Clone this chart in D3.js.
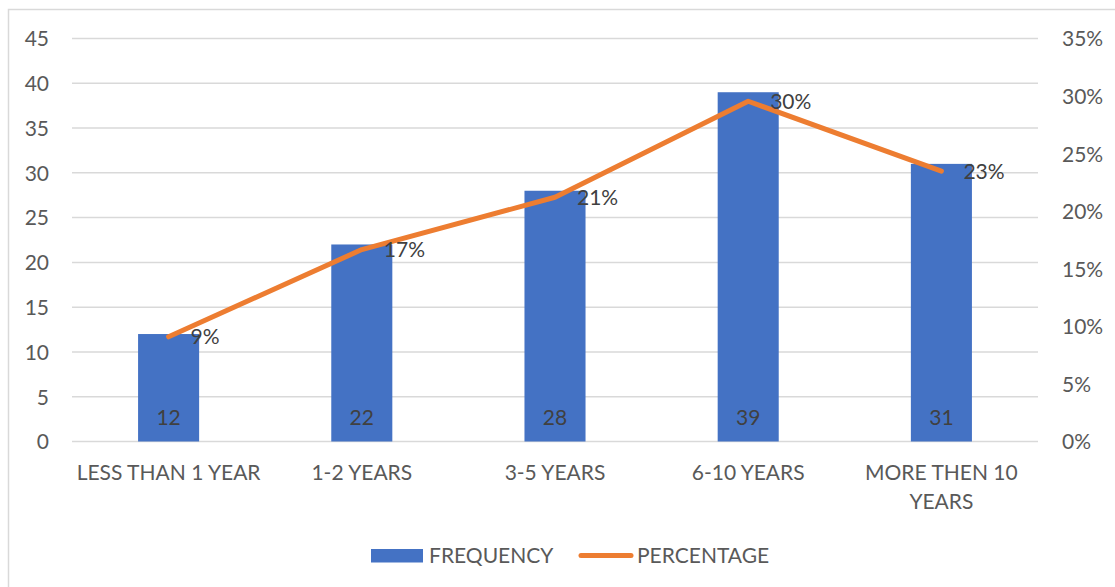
<!DOCTYPE html>
<html>
<head>
<meta charset="utf-8">
<script src="https://cdn.jsdelivr.net/npm/d3@7"></script>
<style>
  html, body { margin: 0; padding: 0; background: #fff; }
  svg { display: block; font-family: Lato, "Noto Sans", sans-serif; }
</style>
</head>
<body>
<svg id="chart" width="1115" height="587"></svg>
<script>
// Years of experience: respondent counts and their share of the total
const categories = ["LESS THAN 1 YEAR", "1-2 YEARS", "3-5 YEARS", "6-10 YEARS", "MORE THEN 10 YEARS"];
const frequency = [12, 22, 28, 39, 31];
const percentage = [0.0909, 0.1667, 0.2121, 0.2955, 0.2348];
const leftTicks = [0, 5, 10, 15, 20, 25, 30, 35, 40, 45];
const rightTicks = [0, 0.05, 0.10, 0.15, 0.20, 0.25, 0.30, 0.35];
const seriesNames = ["FREQUENCY", "PERCENTAGE"];

const BLUE = "#4472C4", ORANGE = "#ED7D31", GRID = "#D9D9D9";
const AXIS_TXT = "#595959", LABEL_TXT = "#404040";
const FS = 21;

const svg = d3.select("#chart");

// outer chart frame
svg.append("rect")
  .attr("x", 8.5).attr("y", 9.5)
  .attr("width", 1200).attr("height", 700)
  .attr("fill", "none").attr("stroke", GRID).attr("stroke-width", 1.5);

const plot = { left: 72, right: 1038, top: 38.5, bottom: 441.5 };

const x = d3.scaleBand()
  .domain(categories)
  .range([plot.left, plot.right])
  .paddingInner(0.684)
  .paddingOuter(0.342);

const yL = d3.scaleLinear().domain([0, 45]).range([plot.bottom, plot.top]);
const yR = d3.scaleLinear().domain([0, 0.35]).range([plot.bottom, plot.top]);

// horizontal gridlines
svg.append("g")
  .selectAll("line")
  .data(leftTicks)
  .join("line")
  .attr("x1", plot.left).attr("x2", plot.right)
  .attr("y1", d => yL(d)).attr("y2", d => yL(d))
  .attr("stroke", GRID).attr("stroke-width", 1.5);

// left axis labels
const leftAxis = d3.axisLeft(yL).tickValues(leftTicks).tickSize(0).tickPadding(0);
const gL = svg.append("g").attr("transform", "translate(49,0)").call(leftAxis);
gL.select(".domain").remove();
gL.selectAll("text")
  .attr("font-size", FS).attr("font-family", "Lato, 'Noto Sans', sans-serif")
  .attr("fill", AXIS_TXT).attr("dy", "0.35em");

// right axis labels
const rightAxis = d3.axisRight(yR).tickValues(rightTicks).tickSize(0).tickPadding(0)
  .tickFormat(d3.format(".0%"));
const gR = svg.append("g").attr("transform", "translate(1062,0)").call(rightAxis);
gR.select(".domain").remove();
gR.selectAll("text")
  .attr("font-size", FS).attr("font-family", "Lato, 'Noto Sans', sans-serif")
  .attr("fill", AXIS_TXT).attr("dy", "0.35em");

// bars
svg.append("g")
  .selectAll("rect")
  .data(frequency)
  .join("rect")
  .attr("x", (d, i) => x(categories[i]))
  .attr("y", d => yL(d))
  .attr("width", x.bandwidth())
  .attr("height", d => yL(0) - yL(d))
  .attr("fill", BLUE);

// bar value labels at the inside base
svg.append("g")
  .selectAll("text")
  .data(frequency)
  .join("text")
  .attr("x", (d, i) => x(categories[i]) + x.bandwidth() / 2)
  .attr("y", yL(0) - 17)
  .attr("text-anchor", "middle")
  .attr("font-size", FS)
  .attr("fill", LABEL_TXT)
  .text(d => d);

// percentage line
const cx = (i) => x(categories[i]) + x.bandwidth() / 2;
const line = d3.line()
  .x((d, i) => cx(i))
  .y(d => yR(d));
svg.append("path")
  .datum(percentage)
  .attr("d", line)
  .attr("fill", "none")
  .attr("stroke", ORANGE)
  .attr("stroke-width", 5)
  .attr("stroke-linejoin", "round")
  .attr("stroke-linecap", "round");

// percentage labels to the right of each point
svg.append("g")
  .selectAll("text")
  .data(percentage)
  .join("text")
  .attr("x", (d, i) => cx(i) + 22)
  .attr("y", d => yR(d) + 7.5)
  .attr("font-size", FS)
  .attr("fill", LABEL_TXT)
  .text(d => d3.format(".0%")(d));

// category labels (wrapped where too wide)
const catLines = { "MORE THEN 10 YEARS": ["MORE THEN 10", "YEARS"] };
const gC = svg.append("g");
categories.forEach((c, i) => {
  const lines = catLines[c] || [c];
  const t = gC.append("text")
    .attr("text-anchor", "middle")
    .attr("font-size", FS)
    .attr("fill", AXIS_TXT);
  lines.forEach((ln, k) => {
    t.append("tspan").attr("x", cx(i)).attr("y", 480 + k * 29).text(ln);
  });
});

// legend
const lg = svg.append("g");
lg.append("rect").attr("x", 371).attr("y", 549).attr("width", 52).attr("height", 13.5).attr("fill", BLUE);
lg.append("text").attr("x", 429).attr("y", 563).attr("font-size", FS).attr("fill", AXIS_TXT).text(seriesNames[0]);
lg.append("line").attr("x1", 581).attr("x2", 631).attr("y1", 555.5).attr("y2", 555.5)
  .attr("stroke", ORANGE).attr("stroke-width", 5).attr("stroke-linecap", "round");
lg.append("text").attr("x", 637).attr("y", 563).attr("font-size", FS).attr("fill", AXIS_TXT).text(seriesNames[1]);
</script>
</body>
</html>
